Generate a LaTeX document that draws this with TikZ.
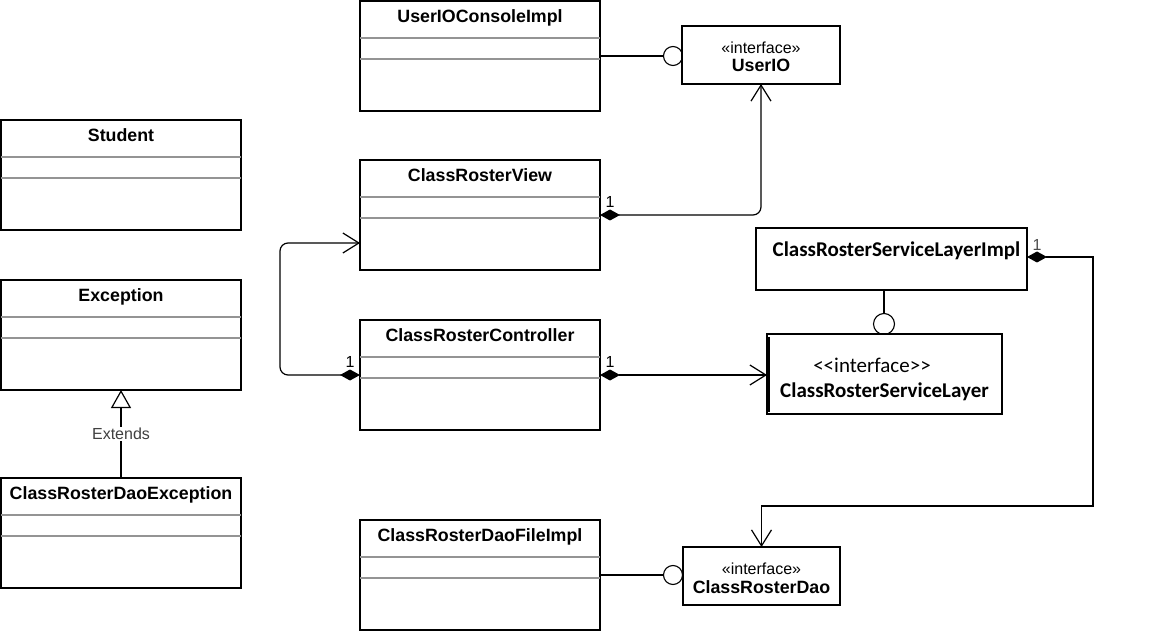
\documentclass[tikz,border=0pt]{standalone}
\usepackage{fontspec}
\setmainfont{Liberation Sans}
\newfontfamily\calib{Carlito}
\usetikzlibrary{arrows.meta,calc}
\newcommand\umlclass[4]{%
  \node[box, minimum width=240pt, minimum height=110pt] (#1) at (#2,#3) {};
  \node[ttl] (#1-t) at ($(#1.north)+(0,21.5)$) {#4};
  \draw[sep] ($(#1.north west)+(0,37)$) -- ($(#1.north east)+(0,37)$);
  \draw[sep] ($(#1.north west)+(0,58)$) -- ($(#1.north east)+(0,58)$);
}
\begin{document}
\begin{tikzpicture}[x=1pt,y=-1pt,line width=1.2pt,
  box/.style={draw, line width=1.3pt, fill=white, inner sep=0pt, outer sep=0pt, anchor=north west},
  sep/.style={draw=black!42, line width=1.2pt},
  ttl/.style={font=\fontsize{17.8}{20}\selectfont\bfseries, inner sep=0pt, anchor=base},
  stereo/.style={font=\fontsize{16}{18}\selectfont, inner sep=0pt, anchor=base},
  iname/.style={font=\fontsize{17.8}{20}\selectfont\bfseries, inner sep=0pt, anchor=base},
  mult/.style={font=\fontsize{16}{18}\selectfont, inner sep=0pt, anchor=base},
  comp/.style={line width=1.2pt, {Diamond[length=20pt,width=11pt]}-{Straight Barb[length=16pt,width=20pt]}},
  lolly/.style={circle, draw, fill=white, line width=1.1pt, minimum size=19pt, inner sep=0pt},
]
\useasboundingbox (0,0) rectangle (1152,631);

% lollipops (drawn first so boxes overlay)
\node[lolly] (l1) at (673,56) {};
\node[lolly] (l2) at (673,575) {};
\node[lolly, minimum size=21pt] (l3) at (884,324) {};

% classes
\umlclass{uioc}{360}{1}{UserIOConsoleImpl}
\umlclass{student}{1}{120}{Student}
\umlclass{view}{360}{160}{ClassRosterView}
\umlclass{exc}{1}{280}{Exception}
\umlclass{ctrl}{360}{320}{ClassRosterController}
\umlclass{dex}{1}{478}{ClassRosterDaoException}
\umlclass{dfi}{360}{520}{ClassRosterDaoFileImpl}

% interfaces
\node[box, minimum width=158pt, minimum height=58pt] (uio) at (682,26) {};
\node[stereo] (uio-s) at ($(uio.north)+(0,28)$) {«interface»};
\node[iname] (uio-n) at ($(uio.north)+(0,46)$) {UserIO};

\node[box, minimum width=157pt, minimum height=58pt] (dao) at (683,547) {};
\node[stereo] (dao-s) at ($(dao.north)+(0,27)$) {«interface»};
\node[iname] (dao-n) at ($(dao.north)+(0,46)$) {ClassRosterDao};

\node[box, minimum width=271pt, minimum height=62pt] (sli) at (756,228) {};
\node[ttl, font=\calib\fontsize{21}{24}\selectfont\bfseries] (sli-t) at ($(sli.north)+(5,29)$) {ClassRosterServiceLayerImpl};

\node[box, minimum width=235pt, minimum height=80pt] (sl) at (767,334) {};
\draw[line width=3pt] ($(sl.north west)+(1,3)$) -- ($(sl.south west)+(1,-2)$);
\node[stereo, font=\calib\fontsize{21}{24}\selectfont] (sl-s) at (872,372) {<<interface>>};
\node[ttl, font=\calib\fontsize{21}{24}\selectfont\bfseries] (sl-n) at ($(sl.north)+(0,63)$) {ClassRosterServiceLayer};

% lollipop stems
\draw (uioc.east |- l1) -- (l1.west);
\draw (dfi.east |- l2) -- (l2.west);
\draw (l3.north |- sli.south) -- (l3.north);

% compositions / associations
\draw[comp, rounded corners=8pt] (view.east) -| (uio.south);
\node[mult] (m1) at (610,208) {1};

\draw[comp, rounded corners=8pt] (ctrl.west) -- ++(-80,0) |- ([yshift=-28pt]view.west);
\node[mult] (m2) at (350,367) {1};

\draw[comp] (ctrl.east) -- (ctrl.east -| sl.west);
\node[mult] (m3) at (610,367) {1};

\draw[comp] ([yshift=2pt]sli.east) -- ++(66,0) -- ++(0,249) -| (dao.north);
\node[mult, text=black!70] (m4) at (1037,251) {1};

% generalisation
\draw[-{Triangle[open,length=18pt,width=20pt,fill=white]}] (dex.north) -- node[fill=white, inner sep=1.5pt, font=\fontsize{16}{18}\selectfont, text=black!75] (ext) {Extends} (exc.south);
\end{tikzpicture}
\end{document}
